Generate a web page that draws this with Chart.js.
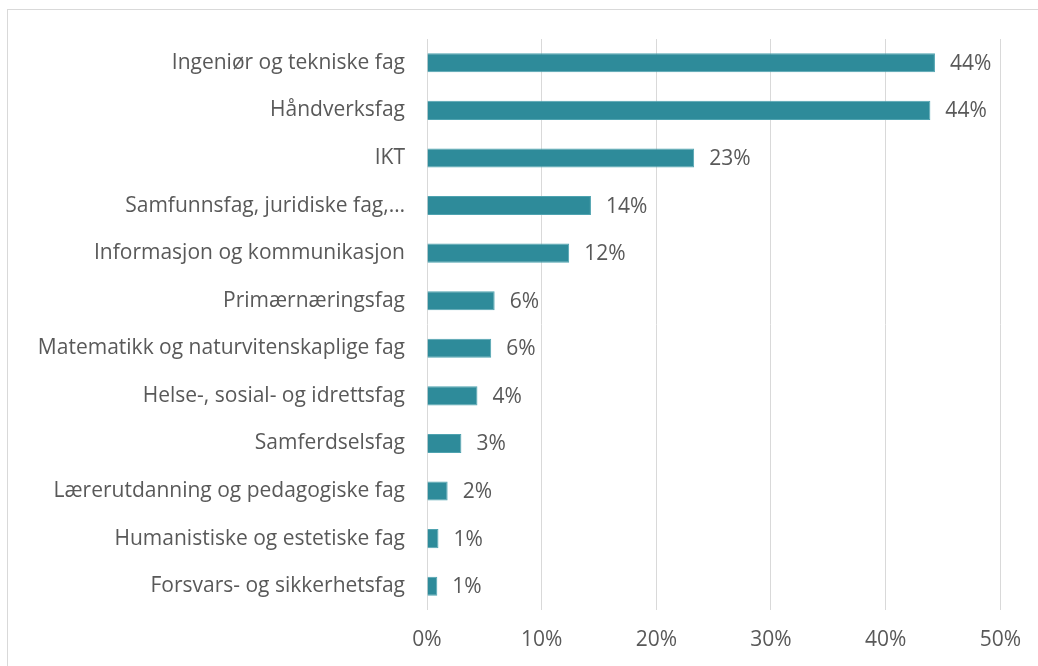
<!DOCTYPE html>
<html>
<head>
<meta charset="utf-8">
<script src="https://cdn.jsdelivr.net/npm/chart.js@4/dist/chart.umd.min.js"></script>
<style>
  html,body{margin:0;padding:0;background:#fff;overflow:hidden}
  #wrap{position:absolute;left:0;top:0;width:1038px;height:666px}
  #frame{position:absolute;left:7px;top:9px;width:1100px;height:700px;border:1px solid #d9d9d9;box-sizing:border-box}
  canvas{position:absolute;left:0;top:0}
</style>
</head>
<body>
<div id="wrap">
  <div id="frame"></div>
  <canvas id="c" width="1038" height="666"></canvas>
</div>
<script>
// fagområder og andel
const categories = [
  'Ingeniør og tekniske fag',
  'Håndverksfag',
  'IKT',
  'Samfunnsfag, juridiske fag,…',
  'Informasjon og kommunikasjon',
  'Primærnæringsfag',
  'Matematikk og naturvitenskaplige fag',
  'Helse-, sosial- og idrettsfag',
  'Samferdselsfag',
  'Lærerutdanning og pedagogiske fag',
  'Humanistiske og estetiske fag',
  'Forsvars- og sikkerhetsfag'
];
const shares = [44.3, 43.9, 23.3, 14.3, 12.4, 5.9, 5.6, 4.4, 3.0, 1.8, 1.0, 0.9];
const xTicks = [0, 10, 20, 30, 40, 50];

const FONT = '"Open Sans", Lato, sans-serif';
const TXT = '#595959';

// tegner prosent etter hver søyle
const valueLabels = {
  id: 'valueLabels',
  afterDatasetsDraw(chart){
    const ctx = chart.ctx;
    const meta = chart.getDatasetMeta(0);
    ctx.save();
    ctx.font = '21px ' + FONT;
    ctx.fillStyle = TXT;
    ctx.textAlign = 'left';
    ctx.textBaseline = 'middle';
    meta.data.forEach((bar, i) => {
      ctx.fillText(Math.round(shares[i]) + '%', bar.x + 15, bar.y + 1);
    });
    ctx.restore();
  }
};

Chart.defaults.animation = false;
new Chart(document.getElementById('c').getContext('2d'), {
  type: 'bar',
  data: {
    labels: categories,
    datasets: [{
      data: shares,
      backgroundColor: '#2e8b9a',
      borderColor: '#4fa3b0',
      borderWidth: 1,
      borderSkipped: 'start',
      categoryPercentage: 1,
      barPercentage: 0.4
    }]
  },
  options: {
    indexAxis: 'y',
    responsive: false,
    devicePixelRatio: 1,
    layout: { padding: { left: 0, top: 39, right: 37, bottom: 0 } },
    plugins: { legend: { display: false }, tooltip: { enabled: false } },
    scales: {
      x: {
        min: 0, max: 50,
        afterBuildTicks(s){ s.ticks = xTicks.map(v => ({ value: v })); },
        afterFit(s){ s.height = 56; },
        grid: { color: '#d9d9d9', lineWidth: 1, drawTicks: false },
        border: { display: false },
        ticks: { padding: 17, color: TXT, font: { family: FONT, size: 21 }, callback: v => v + '%' }
      },
      y: {
        afterFit(s){ s.width = 427; },
        grid: { display: false, drawTicks: false },
        border: { display: false },
        ticks: { padding: 22, color: TXT, font: { family: FONT, size: 21 } }
      }
    }
  },
  plugins: [valueLabels]
});
</script>
</body>
</html>
